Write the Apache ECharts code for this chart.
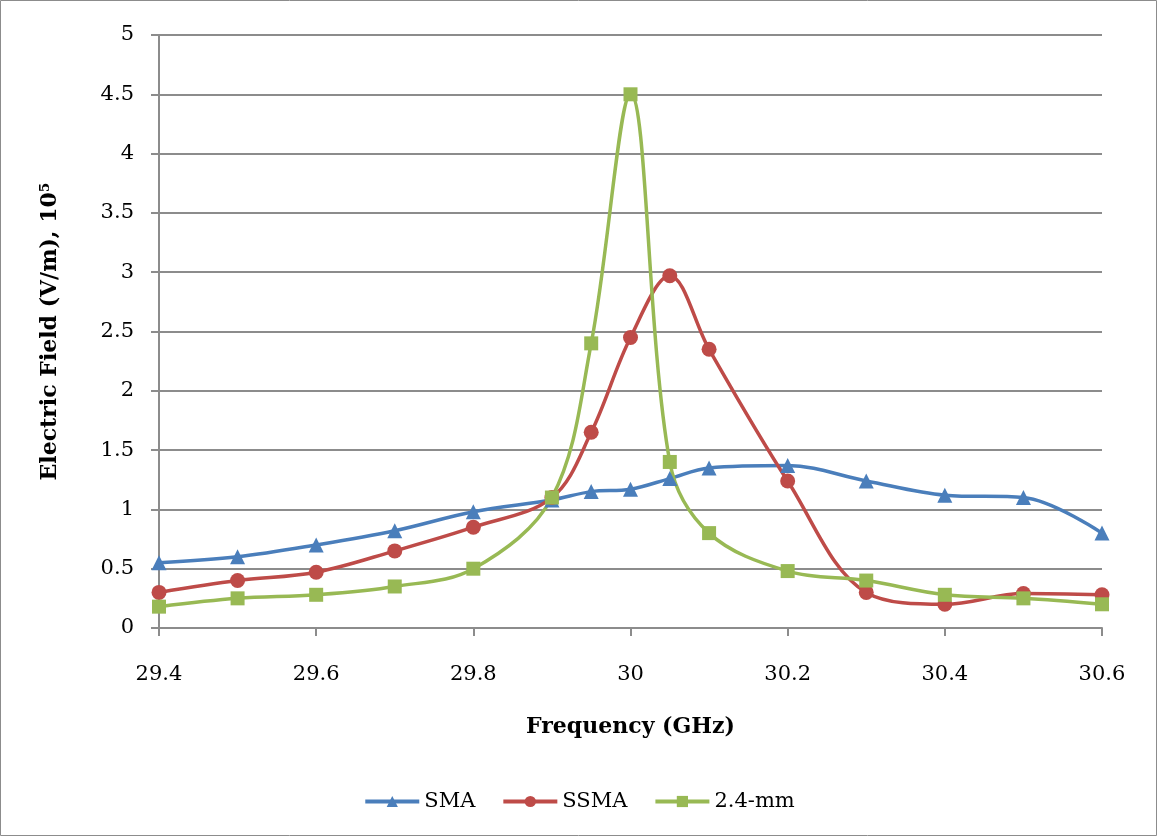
<!DOCTYPE html>
<html>
<head>
<meta charset="utf-8">
<script src="https://cdn.jsdelivr.net/npm/echarts@6/dist/echarts.min.js"></script>
<style>
  html, body { margin: 0; padding: 0; background: #fff; }
  #chart { width: 1158px; height: 837px; }
</style>
</head>
<body>
<div id="chart"></div>
<script>
// frequency points (GHz)
var freq = [29.4, 29.5, 29.6, 29.7, 29.8, 29.9, 29.95, 30.0, 30.05, 30.1, 30.2, 30.3, 30.4, 30.5, 30.6]
// electric field, x10^5 V/m
var sma = [0.55, 0.60, 0.70, 0.82, 0.98, 1.08, 1.15, 1.17, 1.26, 1.35, 1.37, 1.24, 1.12, 1.10, 0.80]
var ssma = [0.30, 0.40, 0.47, 0.65, 0.85, 1.10, 1.65, 2.45, 2.97, 2.35, 1.24, 0.30, 0.20, 0.29, 0.28]
var mm24 = [0.18, 0.25, 0.28, 0.35, 0.50, 1.10, 2.40, 4.50, 1.40, 0.80, 0.48, 0.40, 0.28, 0.25, 0.20]

var font = 'DejaVu Serif'

function pairs(ys) {
  return freq.map(function (x, i) { return [x, ys[i]] })
}

function line(name, ys, color, symbol, size) {
  return {
    name: name,
    type: 'line',
    data: pairs(ys),
    smooth: 0.35,
    symbol: symbol,
    symbolSize: size,
    itemStyle: { color: color },
    lineStyle: { color: color, width: 3.5 },
    emphasis: { disabled: true }
  }
}

var chart = echarts.init(document.getElementById('chart'))
chart.setOption({
  animation: false,
  backgroundColor: '#fff',
  textStyle: { fontFamily: font },
  grid: { left: 159, right: 56, top: 35, bottom: 209 },
  graphic: [{
    type: 'rect',
    shape: { x: 0.5, y: 0.5, width: 1156, height: 835 },
    style: { fill: 'none', stroke: '#8c8c8c', lineWidth: 1 },
    silent: true
  }],
  legend: {
    bottom: 20,
    left: 'center',
    itemWidth: 54,
    itemHeight: 14,
    itemGap: 26,
    lineStyle: { width: 4 },
    textStyle: { fontFamily: font, fontSize: 21, color: '#000' },
    data: ['SMA', 'SSMA', '2.4-mm']
  },
  xAxis: {
    type: 'value',
    min: 29.4,
    max: 30.6,
    interval: 0.2,
    name: 'Frequency (GHz)',
    nameLocation: 'middle',
    nameGap: 88,
    nameTextStyle: { fontFamily: font, fontSize: 22, fontWeight: 'bold', color: '#000' },
    axisLine: { lineStyle: { color: '#8c8c8c', width: 2 } },
    axisTick: { length: 8, lineStyle: { color: '#8c8c8c', width: 2 } },
    axisLabel: { fontFamily: font, fontSize: 21, color: '#000', margin: 36,
      formatter: function (v) { return String(Math.round(v * 10) / 10) } },
    splitLine: { show: false }
  },
  yAxis: {
    type: 'value',
    min: 0,
    max: 5,
    interval: 0.5,
    name: 'Electric Field (V/m), 10\u2075',
    nameLocation: 'middle',
    nameGap: 98,
    nameTextStyle: { fontFamily: font, fontSize: 22, fontWeight: 'bold', color: '#000' },
    axisLine: { show: true, lineStyle: { color: '#8c8c8c', width: 2 } },
    axisTick: { show: true, length: 8, lineStyle: { color: '#8c8c8c', width: 2 } },
    axisLabel: { fontFamily: font, fontSize: 21, color: '#000', margin: 25 },
    splitLine: { lineStyle: { color: '#8c8c8c', width: 2 } }
  },
  series: [
    line('SMA', sma, '#4a7ebb', 'triangle', 15),
    line('SSMA', ssma, '#be4b48', 'circle', 15),
    line('2.4-mm', mm24, '#98b954', 'rect', 14)
  ]
})
</script>
</body>
</html>
